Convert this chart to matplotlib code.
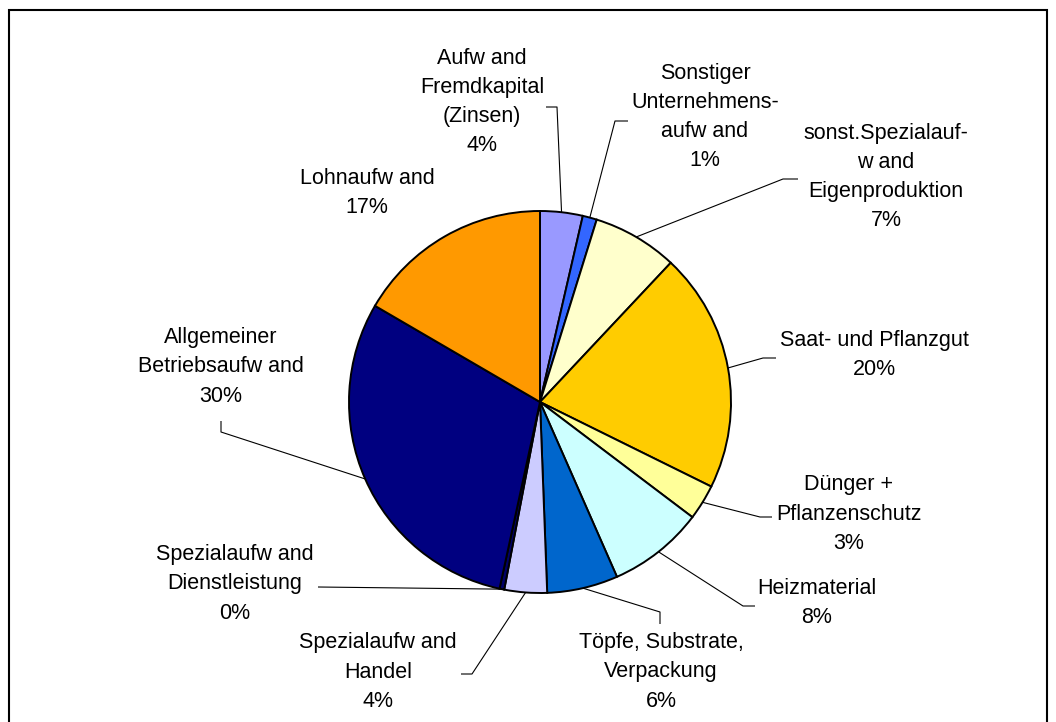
import numpy as np
import matplotlib
matplotlib.use('Agg')
import matplotlib.pyplot as plt
from matplotlib.patches import Rectangle

plt.rcParams['font.family'] = ['Liberation Sans', 'DejaVu Sans']

''' Data '''
names = ['Aufw and\nFremdkapital\n(Zinsen)',
         'Sonstiger\nUnternehmens-\naufw and',
         'sonst.Spezialauf-\nw and\nEigenproduktion',
         'Saat- und Pflanzgut',
         'Dünger +\nPflanzenschutz',
         'Heizmaterial',
         'Töpfe, Substrate,\nVerpackung',
         'Spezialaufw and\nHandel',
         'Spezialaufw and\nDienstleistung',
         'Allgemeiner\nBetriebsaufw and',
         'Lohnaufw and']
values = [3.6, 1.2, 7.2, 20.3, 3.0, 8.1, 6.0, 3.6, 0.4, 30.0, 16.6]
colors = ['#9999FF', '#3366FF', '#FFFFCC', '#FFCC00', '#FFFF99', '#CCFFFF',
          '#0066CC', '#CCCCFF', '#000066', '#000080', '#FF9900']

''' Layout (pixel coords, y from top) '''
W, H = 1056, 722
cx, cy, rad = 540, 402, 191
label_pos = [(482, 102), (705, 117), (886, 177), (874, 355), (849, 514),
             (817, 603), (661, 672), (378, 672), (235, 584), (221, 367), (367, 193)]
elbows = [[(557, 107), (546, 107)],
          [(615, 121), (628, 121)],
          [(783, 179), (798, 179)],
          [(763, 358), (776, 358)],
          [(760, 517), (772, 517)],
          [(743, 606), (755, 606)],
          [(660, 612), (660, 624)],
          [(472, 674), (461, 674)],
          [(318, 587)],
          [(221, 432), (221, 421)],
          []]

def fy(y):
    return H - y

fig = plt.figure(figsize=(W / 100, H / 100), dpi=100)
ax = fig.add_axes([0, 0, 1, 1])

wedges, _ = ax.pie(values, colors=colors, startangle=90, counterclock=False,
                   center=(cx, fy(cy)), radius=rad,
                   wedgeprops=dict(edgecolor='black', linewidth=1.4))

# leader lines from wedge edge to labels
for w, pts in zip(wedges, elbows):
    if not pts:
        continue
    mid = np.deg2rad((w.theta1 + w.theta2) / 2)
    xs = [cx + rad * np.cos(mid)] + [p[0] for p in pts]
    ys = [fy(cy) + rad * np.sin(mid)] + [fy(p[1]) for p in pts]
    ax.plot(xs, ys, color='black', lw=0.8, solid_capstyle='butt')

# labels
for name, v, (lx, ly) in zip(names, values, label_pos):
    ax.text(lx, fy(ly), name + '\n' + '{:.0f}%'.format(v), ha='center', va='center',
            fontsize=15.5, linespacing=1.52, color='black', multialignment='center')

# chart frame
ax.add_patch(Rectangle((8.5, -20), 1047 - 8.5, fy(10) + 20, fill=False,
                       edgecolor='black', lw=1.5))

ax.set_xlim(0, W)
ax.set_ylim(0, H)
ax.set_aspect('equal')
ax.axis('off')

plt.savefig('out.png', dpi=100)
